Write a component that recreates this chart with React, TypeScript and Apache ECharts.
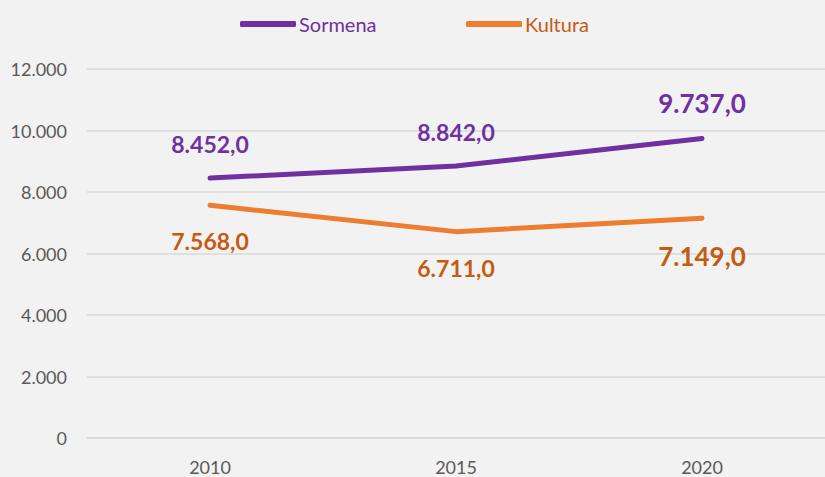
import React, { useEffect, useRef } from "react";
import * as echarts from "echarts";

const categories = ["2010", "2015", "2020"];
const sormena = [8452, 8842, 9737];
const kultura = [7568, 6711, 7149];
const yTicks = [0, 2000, 4000, 6000, 8000, 10000, 12000];

const fmtLabel = (v: number) =>
  v.toLocaleString("de-DE", { minimumFractionDigits: 1, maximumFractionDigits: 1 });
const fmtTick = (v: number) => v.toLocaleString("de-DE");

export default function App() {
  const ref = useRef<HTMLDivElement>(null);
  useEffect(() => {
    if (!ref.current) return;
    const chart = echarts.init(ref.current, undefined, { renderer: "svg" });
    const font = "Lato, 'Open Sans', sans-serif";
    const mkData = (arr: number[]) =>
      arr.map((v, i) => ({
        value: v,
        label: { fontSize: i === 2 ? 26 : 23 },
      }));
    const legendBase = {
      top: 9,
      itemWidth: 56,
      itemHeight: 6,
      icon: "roundRect",
      textStyle: { fontSize: 20, fontFamily: font, padding: [0, 0, 0, -2] },
    };
    chart.setOption({
      animation: false,
      backgroundColor: "#f2f2f2",
      textStyle: { fontFamily: font },
      legend: [
        {
          ...legendBase,
          left: 235,
          data: [{ name: "Sormena", textStyle: { color: "#7030a0" } }],
        },
        {
          ...legendBase,
          left: 461,
          data: [{ name: "Kultura", textStyle: { color: "#c55a11" } }],
        },
      ],
      grid: { left: 87, top: 69, width: 741, height: 369, containLabel: false },
      xAxis: {
        type: "category",
        data: categories,
        boundaryGap: true,
        axisLine: { show: true, lineStyle: { color: "#d9d9d9", width: 1.5 } },
        axisTick: { show: false },
        axisLabel: { color: "#595959", fontSize: 18, fontFamily: font, margin: 20 },
      },
      yAxis: {
        type: "value",
        min: yTicks[0],
        max: yTicks[yTicks.length - 1],
        interval: 2000,
        axisLine: { show: false },
        axisTick: { show: false },
        splitLine: { lineStyle: { color: "#d9d9d9", width: 1.5 } },
        axisLabel: {
          color: "#595959",
          fontSize: 18,
          fontFamily: font,
          margin: 20,
          formatter: (v: number) => fmtTick(v),
        },
      },
      series: [
        {
          name: "Sormena",
          type: "line",
          data: mkData(sormena),
          showSymbol: true,
          symbol: "circle",
          symbolSize: 1,
          lineStyle: { color: "#7030a0", width: 5, cap: "round", join: "round" },
          itemStyle: { color: "#7030a0" },
          label: {
            show: true,
            position: "top",
            distance: 22,
            color: "#7030a0",
            fontWeight: "bold",
            fontFamily: font,
            formatter: (p: any) => fmtLabel(p.value),
          },
        },
        {
          name: "Kultura",
          type: "line",
          data: mkData(kultura),
          showSymbol: true,
          symbol: "circle",
          symbolSize: 1,
          lineStyle: { color: "#ed7d31", width: 5, cap: "round", join: "round" },
          itemStyle: { color: "#ed7d31" },
          label: {
            show: true,
            position: "bottom",
            distance: 24,
            color: "#c55a11",
            fontWeight: "bold",
            fontFamily: font,
            formatter: (p: any) => fmtLabel(p.value),
          },
        },
      ],
    });
    return () => chart.dispose();
  }, []);
  return (
    <div
      ref={ref}
      style={{ position: "fixed", left: 0, top: 0, width: 825, height: 477 }}
    />
  );
}
